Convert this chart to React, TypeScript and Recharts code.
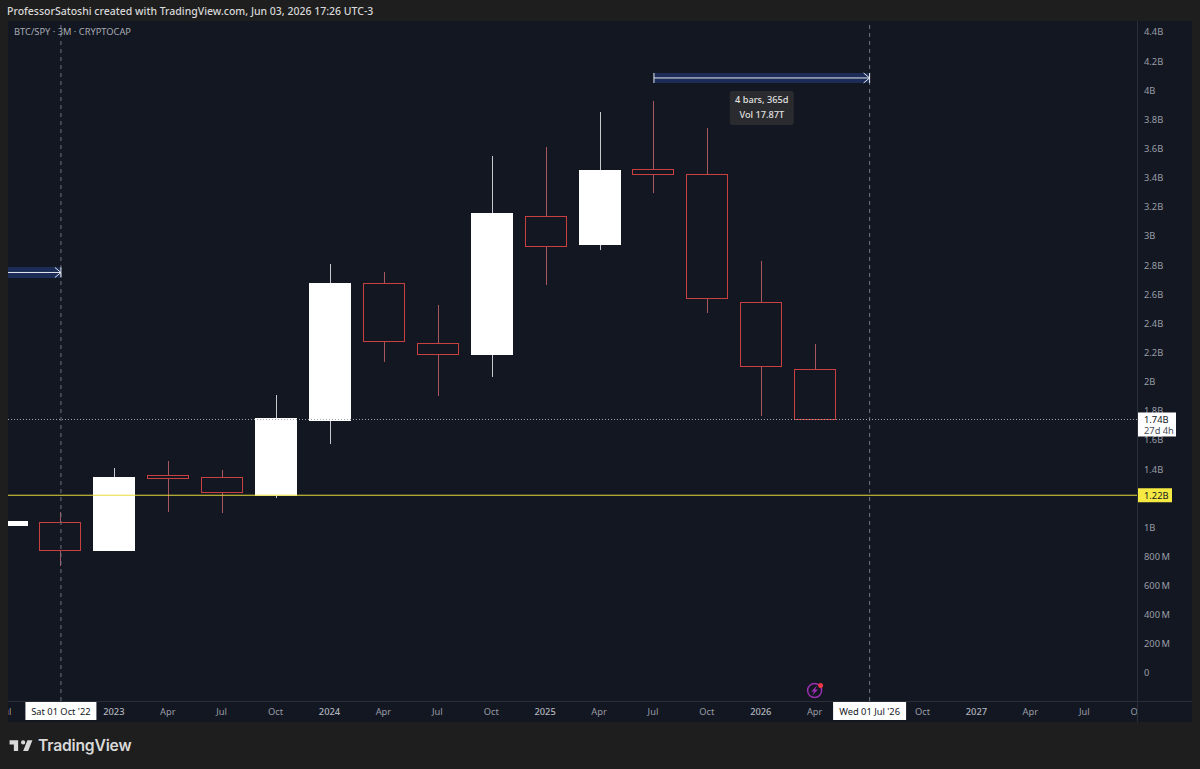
import { Bar, ComposedChart, ReferenceArea, ReferenceDot, ReferenceLine, XAxis, YAxis } from "recharts";

// 3M candles, values in billions
const LABELS = ["Jul", "Oct", "2023", "Apr", "Jul", "Oct", "2024", "Apr", "Jul", "Oct", "2025", "Apr", "Jul", "Oct", "2026", "Apr"];
const OPENS = [1.009, 1.033, 0.837, 1.362, 1.345, 1.215, 1.736, 2.677, 2.265, 2.183, 3.137, 2.938, 3.459, 3.428, 2.546, 2.087];
const HIGHS = [1.043, 1.105, 1.407, 1.455, 1.393, 1.908, 2.807, 2.752, 2.526, 3.548, 3.61, 3.85, 3.926, 3.741, 2.828, 2.258];
const LOWS = [1.009, 0.734, 0.837, 1.105, 1.098, 1.201, 1.572, 2.135, 1.901, 2.032, 2.663, 2.903, 3.294, 2.471, 1.764, 1.736];
const CLOSES = [1.043, 0.837, 1.345, 1.332, 1.232, 1.75, 2.68, 2.272, 2.183, 3.157, 2.927, 3.452, 3.418, 2.567, 2.097, 1.74];

const TICK_LABELS = ["Jul", "Oct", "2023", "Apr", "Jul", "Oct", "2024", "Apr", "Jul", "Oct", "2025", "Apr", "Jul", "Oct", "2026", "Apr", "Jul", "Oct", "2027", "Apr", "Jul", "Oct"];
// 1.2B sits behind the yellow tag; the two tags go last so they paint over 1.6B and 1.8B
const Y_TICKS = [0, 0.2, 0.4, 0.6, 0.8, 1, 1.4, 1.6, 1.8, 2, 2.2, 2.4, 2.6, 2.8, 3, 3.2, 3.4, 3.6, 3.8, 4, 4.2, 4.4, 1.22, 1.74];
const CROSSHAIR_LABELS: Record<number, string> = { 1: "Sat 01 Oct '22", 16: "Wed 01 Jul '26" };

const data = LABELS.map((label, i) => ({
  i,
  label,
  open: OPENS[i],
  high: HIGHS[i],
  low: LOWS[i],
  close: CLOSES[i],
  range: [LOWS[i], HIGHS[i]],
}));

const FONT = "'Noto Sans', sans-serif";
const PANEL = "#131722";
const GRID = "#2a2e39";
const AXIS_TEXT = "#9a9da6";
const RED = "#c94040";
const WIDTH = 1184;
const HEIGHT = 701;
const PLOT_W = 1129;
const PLOT_H = 680;

const Candle = (props: any) => {
  const { x, y, width, height, payload } = props;
  const { open, high, low, close } = payload;
  const k = height / (high - low);
  const top = y + (high - Math.max(open, close)) * k;
  const bottom = y + (high - Math.min(open, close)) * k;
  const up = close >= open;
  const cx = Math.floor(x + width / 2) + 0.5;
  const wick = up ? "#c8c9cc" : "#a8585c";
  return (
    <g>
      <line x1={cx} x2={cx} y1={y} y2={y + height} stroke={wick} strokeWidth={1} />
      <rect
        x={Math.floor(x) + 0.5}
        y={Math.round(top) + 0.5}
        width={width - 1}
        height={Math.max(Math.round(bottom - top) - 1, 1)}
        fill={up ? "#ffffff" : PANEL}
        stroke={up ? "#ffffff" : RED}
      />
    </g>
  );
};

const TimeTick = (props: any) => {
  const { x, y, payload } = props;
  const i = payload.value as number;
  const text = CROSSHAIR_LABELS[i];
  const top = y - 8;
  if (text) {
    const w = i === 1 ? 71 : 73;
    return (
      <g>
        <rect x={x - w / 2} y={top + 1} width={w} height={18} fill="#ffffff" />
        <text x={x} y={top + 14} textAnchor="middle" fontSize={9.3} fontFamily={FONT} fill="#131722">
          {text}
        </text>
      </g>
    );
  }
  const year = /^\d/.test(TICK_LABELS[i]);
  return (
    <text
      x={x - 1}
      y={top + 14}
      textAnchor="middle"
      fontSize={9.3}
      fontWeight={year ? 500 : 400}
      fontFamily={FONT}
      fill={year ? "#b2b5be" : AXIS_TEXT}
      clipPath="url(#time-clip)"
    >
      {TICK_LABELS[i]}
    </text>
  );
};

const PriceTick = (props: any) => {
  const { y, payload } = props;
  const v = payload.value as number;
  if (v === 1.22) {
    return (
      <g>
        <rect x={PLOT_W + 1} y={y - 7} width={34} height={14} fill="#f5e942" />
        <text x={PLOT_W + 7} y={y + 3.5} fontSize={9.3} fontFamily={FONT} fill="#131722">
          1.22B
        </text>
      </g>
    );
  }
  if (v === 1.74) {
    return (
      <g>
        <rect x={PLOT_W + 1} y={y - 7} width={38} height={24} fill="#ffffff" />
        <text x={PLOT_W + 7} y={y + 3.5} fontSize={9.3} fontFamily={FONT} fill="#131722">
          1.74B
        </text>
        <text x={PLOT_W + 7} y={y + 15} fontSize={9.3} fontFamily={FONT} fill="#4a4e58">
          27d 4h
        </text>
      </g>
    );
  }
  const text = v === 0 ? "0" : v < 1 ? `${Math.round(v * 1000)}\u2009M` : `${v}B`;
  return (
    <text x={PLOT_W + 7} y={y + 3.5} fontSize={9.3} fontFamily={FONT} fill={AXIS_TEXT}>
      {text}
    </text>
  );
};

const ArrowHead = ({ cx, cy }: any) => (
  <path d={`M${cx - 6} ${cy - 5}L${cx} ${cy}L${cx - 6} ${cy + 5}M${cx} ${cy - 5}V${cy + 5}`} stroke="#e4e8f0" fill="none" />
);

const RangeStart = ({ cx, cy }: any) => <path d={`M${cx} ${cy - 5}V${cy + 5}`} stroke="#e4e8f0" fill="none" />;

const RangeNote = ({ cx, cy }: any) => (
  <g>
    <rect x={cx - 32} y={cy - 17} width={64} height={34} rx={3} fill="#2a2b2e" />
    <text x={cx} y={cy - 5} textAnchor="middle" fontSize={9.2} fontWeight={500} fontFamily={FONT} fill="#e0e0e0">
      4 bars, 365d
    </text>
    <text x={cx} y={cy + 10.5} textAnchor="middle" fontSize={9.2} fontWeight={500} fontFamily={FONT} fill="#e0e0e0">
      Vol 17.87T
    </text>
  </g>
);

const AlertIcon = ({ cx, cy }: any) => (
  <g>
    <circle cx={cx} cy={cy} r={7} fill="none" stroke="#9a2fb0" strokeWidth={1.5} />
    <path d={`M${cx + 2.5} ${cy - 5}L${cx - 3.5} ${cy + 1}H${cx - 0.5}L${cx - 2.5} ${cy + 5}L${cx + 3.5} ${cy - 1}H${cx + 0.5}Z`} fill="#9a2fb0" />
    <circle cx={cx + 6} cy={cy - 5} r={2.5} fill="#f23645" />
  </g>
);

const App = () => {
  return (
    <div style={{ position: "absolute", left: 0, top: 0, width: 1200, height: 769, background: "#1e1e1e", overflow: "hidden" }}>
      <div style={{ position: "absolute", left: 7, top: 4, fontFamily: FONT, fontSize: 10.5, fontWeight: 500, color: "#d8d8d8", whiteSpace: "nowrap" }}>
        ProfessorSatoshi created with TradingView.com, Jun 03, 2026 17:26 UTC-3
      </div>
      <div style={{ position: "absolute", left: 8, top: 21, width: WIDTH, height: HEIGHT, background: PANEL }}>
        <ComposedChart width={WIDTH} height={HEIGHT} data={data} margin={{ top: 0, right: 0, bottom: 0, left: 0 }}>
          <defs>
            <clipPath id="time-clip">
              <rect x={0} y={PLOT_H} width={PLOT_W} height={HEIGHT - PLOT_H} />
            </clipPath>
          </defs>
          <XAxis
            type="number"
            dataKey="i"
            domain={[0.0186, 20.96]}
            allowDataOverflow
            ticks={TICK_LABELS.map((_, i) => i)}
            interval={0}
            height={21}
            axisLine={false}
            tickLine={false}
            tick={<TimeTick />}
          />
          <YAxis
            orientation="right"
            type="number"
            domain={[-0.1922, 4.475]}
            allowDataOverflow
            ticks={Y_TICKS}
            interval={0}
            width={55}
            axisLine={false}
            tickLine={false}
            tick={<PriceTick />}
          />
          <ReferenceLine x={1} stroke="#6f7480" strokeDasharray="4 4" />
          <ReferenceLine x={16} stroke="#6f7480" strokeDasharray="4 4" />
          <ReferenceLine y={1.22} stroke="#e8dc3c" />
          <ReferenceLine y={1.74} stroke="#a4a6ac" strokeDasharray="1 2" />
          <ReferenceArea x1={0.0186} x2={1} y1={2.711} y2={2.787} fill="#1c2c56" fillOpacity={1} stroke="none" />
          <ReferenceArea x1={12} x2={16} y1={4.05} y2={4.118} fill="#1c2c56" fillOpacity={1} stroke="none" />
          <ReferenceLine segment={[{ x: 0.0186, y: 2.749 }, { x: 1, y: 2.749 }]} stroke="#e4e8f0" />
          <ReferenceLine segment={[{ x: 12, y: 4.084 }, { x: 16, y: 4.084 }]} stroke="#e4e8f0" />
          <Bar dataKey="range" barSize={42} isAnimationActive={false} shape={<Candle />} />
          <ReferenceDot x={1} y={2.749} r={0} shape={<ArrowHead />} />
          <ReferenceDot x={12} y={4.084} r={0} shape={<RangeStart />} />
          <ReferenceDot x={16} y={4.084} r={0} shape={<ArrowHead />} />
          <ReferenceDot x={14} y={3.878} r={0} shape={<RangeNote />} />
          <ReferenceDot x={14.98} y={-0.12} r={0} shape={<AlertIcon />} />
        </ComposedChart>
      </div>
      <div style={{ position: "absolute", left: 14, top: 25, fontFamily: FONT, fontSize: 9.3, lineHeight: "13px", color: "#a8abb3", whiteSpace: "nowrap" }}>
        BTC/SPY · 3M · CRYPTOCAP
      </div>
      <div style={{ position: "absolute", left: 8, top: 701, width: WIDTH, height: 1, background: GRID }} />
      <div style={{ position: "absolute", left: 1137, top: 21, width: 1, height: HEIGHT, background: GRID }} />
      <svg style={{ position: "absolute", left: 7.5, top: 735.7 }} width={26} height={20} viewBox="0 0 36 28">
        <path d="M14 6H2v6h6v9h6V6zm14 15h-7l6-15h7l-6 15zm-7-9a3 3 0 1 0 0-6 3 3 0 0 0 0 6z" fill="#d9d9d9" />
      </svg>
      <div style={{ position: "absolute", left: 38, top: 736, fontFamily: "Inter, sans-serif", fontSize: 15.7, lineHeight: "20px", fontWeight: 600, letterSpacing: -0.2, color: "#d9d9d9" }}>
        TradingView
      </div>
    </div>
  );
};

export default App;
